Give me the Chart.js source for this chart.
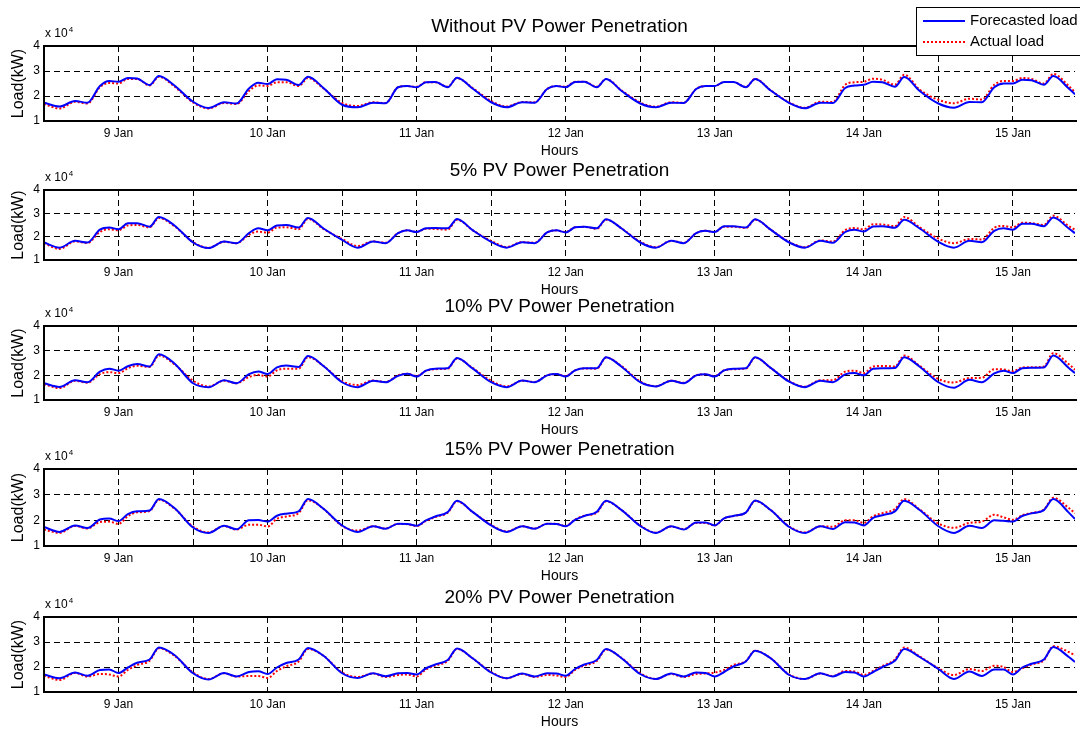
<!DOCTYPE html>
<html>
<head>
<meta charset="utf-8">
<title>PV penetration load forecast</title>
<script src="https://cdn.jsdelivr.net/npm/chart.js@4.4.0/dist/chart.umd.min.js"></script>
<style>
  body { margin: 0; background: #fff; width: 1080px; height: 733px; overflow: hidden; position: relative; }
  canvas { position: absolute; left: 0; }
</style>
</head>
<body>
<canvas id="c0"></canvas>
<canvas id="c1"></canvas>
<canvas id="c2"></canvas>
<canvas id="c3"></canvas>
<canvas id="c4"></canvas>
<script>
// hours counted from 9 Jan 00:00, values in units of 10^4 kW
const hours = [
  -12, -9.5, -7, -5, -3, -1.5,
  0, 1.5, 3, 5, 6.5, 9, 12, 14.5, 17, 19, 21, 22.5,
  24, 25.5, 27, 29, 30.5, 33, 36, 38.5, 41, 43, 45, 46.5,
  48, 49.5, 51, 53, 54.5, 57, 60, 62.5, 65, 67, 69, 70.5,
  72, 73.5, 75, 77, 78.5, 81, 84, 86.5, 89, 91, 93, 94.5,
  96, 97.5, 99, 101, 102.5, 105, 108, 110.5, 113, 115, 117, 118.5,
  120, 121.5, 123, 125, 126.5, 129, 132, 134.5, 137, 139, 141, 142.5,
  144, 145.5, 147, 149, 150.5, 153, 154
];
const dayLabels = ['9 Jan', '10 Jan', '11 Jan', '12 Jan', '13 Jan', '14 Jan', '15 Jan'];
const titles = [
  'Without PV Power Penetration',
  '5% PV Power Penetration',
  '10% PV Power Penetration',
  '15% PV Power Penetration',
  '20% PV Power Penetration'
];

const forecast0 = [
  1.73, 1.58, 1.80, 1.73, 2.40, 2.60,
  2.57, 2.72, 2.70, 2.44, 2.80, 2.42, 1.77, 1.52, 1.75, 1.70, 2.30, 2.53,
  2.48, 2.67, 2.65, 2.44, 2.77, 2.32, 1.65, 1.55, 1.73, 1.71, 2.35, 2.40,
  2.35, 2.55, 2.56, 2.35, 2.73, 2.30, 1.75, 1.55, 1.75, 1.73, 2.28, 2.40,
  2.35, 2.56, 2.57, 2.35, 2.68, 2.20, 1.70, 1.55, 1.73, 1.72, 2.28, 2.40,
  2.40, 2.56, 2.56, 2.35, 2.68, 2.22, 1.72, 1.51, 1.73, 1.72, 2.32, 2.42,
  2.45, 2.57, 2.55, 2.37, 2.76, 2.20, 1.70, 1.53, 1.76, 1.75, 2.35, 2.50,
  2.50, 2.65, 2.63, 2.45, 2.80, 2.30, 2.07
];
const actual0 = [
  1.68, 1.50, 1.77, 1.70, 2.35, 2.52,
  2.50, 2.68, 2.68, 2.42, 2.77, 2.38, 1.74, 1.50, 1.72, 1.68, 2.20, 2.42,
  2.40, 2.55, 2.55, 2.40, 2.72, 2.30, 1.72, 1.60, 1.75, 1.72, 2.35, 2.40,
  2.37, 2.55, 2.55, 2.37, 2.72, 2.32, 1.80, 1.58, 1.76, 1.75, 2.28, 2.40,
  2.37, 2.57, 2.57, 2.37, 2.68, 2.22, 1.74, 1.57, 1.75, 1.73, 2.28, 2.40,
  2.40, 2.56, 2.56, 2.36, 2.68, 2.23, 1.74, 1.53, 1.77, 1.76, 2.45, 2.55,
  2.57, 2.69, 2.65, 2.45, 2.85, 2.25, 1.85, 1.71, 1.89, 1.86, 2.45, 2.60,
  2.60, 2.72, 2.68, 2.50, 2.88, 2.40, 2.15
];

const forecast5 = [
  1.75, 1.53, 1.82, 1.75, 2.30, 2.39,
  2.32, 2.57, 2.58, 2.43, 2.84, 2.48, 1.75, 1.51, 1.79, 1.72, 2.15, 2.36,
  2.27, 2.48, 2.50, 2.39, 2.80, 2.35, 1.86, 1.53, 1.79, 1.72, 2.15, 2.27,
  2.20, 2.36, 2.37, 2.36, 2.76, 2.28, 1.78, 1.53, 1.76, 1.72, 2.18, 2.27,
  2.18, 2.40, 2.43, 2.36, 2.75, 2.35, 1.75, 1.53, 1.82, 1.72, 2.15, 2.25,
  2.20, 2.45, 2.45, 2.39, 2.75, 2.30, 1.75, 1.53, 1.82, 1.74, 2.20, 2.30,
  2.22, 2.44, 2.45, 2.38, 2.72, 2.35, 1.78, 1.53, 1.82, 1.76, 2.25, 2.36,
  2.30, 2.55, 2.55, 2.45, 2.82, 2.35, 2.15
];
const actual5 = [
  1.72, 1.47, 1.80, 1.73, 2.20, 2.32,
  2.27, 2.48, 2.50, 2.40, 2.80, 2.45, 1.77, 1.52, 1.78, 1.72, 2.08, 2.22,
  2.17, 2.39, 2.40, 2.32, 2.76, 2.33, 1.90, 1.60, 1.80, 1.74, 2.15, 2.27,
  2.20, 2.34, 2.33, 2.30, 2.73, 2.28, 1.82, 1.56, 1.77, 1.74, 2.18, 2.27,
  2.20, 2.40, 2.42, 2.34, 2.73, 2.35, 1.78, 1.55, 1.82, 1.74, 2.15, 2.25,
  2.20, 2.43, 2.43, 2.37, 2.73, 2.30, 1.77, 1.55, 1.84, 1.79, 2.28, 2.37,
  2.32, 2.53, 2.52, 2.45, 2.84, 2.40, 1.92, 1.72, 1.90, 1.88, 2.38, 2.46,
  2.40, 2.60, 2.58, 2.50, 2.90, 2.45, 2.30
];

const forecast10 = [
  1.68, 1.53, 1.80, 1.72, 2.15, 2.27,
  2.19, 2.37, 2.46, 2.36, 2.85, 2.48, 1.68, 1.52, 1.80, 1.68, 2.05, 2.16,
  2.05, 2.32, 2.40, 2.34, 2.78, 2.38, 1.72, 1.52, 1.78, 1.72, 1.98, 2.06,
  1.95, 2.19, 2.27, 2.29, 2.70, 2.28, 1.72, 1.52, 1.79, 1.72, 2.00, 2.05,
  1.95, 2.20, 2.29, 2.29, 2.73, 2.35, 1.72, 1.55, 1.78, 1.68, 2.00, 2.04,
  1.95, 2.20, 2.27, 2.29, 2.73, 2.30, 1.74, 1.52, 1.78, 1.72, 2.04, 2.09,
  2.00, 2.27, 2.29, 2.30, 2.73, 2.35, 1.72, 1.50, 1.82, 1.72, 2.08, 2.19,
  2.09, 2.29, 2.31, 2.32, 2.80, 2.30, 2.09
];
const actual10 = [
  1.64, 1.48, 1.78, 1.70, 2.05, 2.13,
  2.09, 2.29, 2.39, 2.34, 2.80, 2.45, 1.78, 1.55, 1.78, 1.68, 1.93, 2.02,
  1.95, 2.20, 2.27, 2.27, 2.74, 2.38, 1.76, 1.61, 1.79, 1.73, 2.00, 2.06,
  1.97, 2.18, 2.25, 2.27, 2.68, 2.30, 1.78, 1.55, 1.78, 1.73, 2.00, 2.05,
  1.97, 2.20, 2.28, 2.27, 2.72, 2.37, 1.75, 1.56, 1.78, 1.70, 2.00, 2.04,
  1.97, 2.20, 2.25, 2.27, 2.72, 2.30, 1.76, 1.54, 1.80, 1.80, 2.15, 2.19,
  2.09, 2.36, 2.38, 2.36, 2.80, 2.38, 1.85, 1.71, 1.89, 1.90, 2.25, 2.24,
  2.16, 2.32, 2.33, 2.36, 2.90, 2.45, 2.23
];

const forecast15 = [
  1.74, 1.55, 1.80, 1.70, 2.03, 2.07,
  1.97, 2.24, 2.35, 2.38, 2.83, 2.48, 1.72, 1.51, 1.79, 1.65, 2.00, 2.01,
  1.95, 2.18, 2.26, 2.35, 2.83, 2.45, 1.80, 1.55, 1.77, 1.67, 1.87, 1.86,
  1.79, 2.00, 2.15, 2.32, 2.76, 2.33, 1.80, 1.55, 1.77, 1.67, 1.87, 1.86,
  1.77, 2.02, 2.17, 2.33, 2.76, 2.40, 1.78, 1.51, 1.77, 1.64, 1.92, 1.92,
  1.80, 2.08, 2.17, 2.30, 2.77, 2.40, 1.74, 1.51, 1.77, 1.66, 1.93, 1.92,
  1.80, 2.10, 2.20, 2.35, 2.76, 2.40, 1.77, 1.51, 1.79, 1.70, 2.00, 1.98,
  1.95, 2.17, 2.27, 2.40, 2.83, 2.30, 2.05
];
const actual15 = [
  1.64, 1.51, 1.78, 1.68, 1.93, 1.95,
  1.86, 2.16, 2.31, 2.36, 2.80, 2.46, 1.76, 1.53, 1.78, 1.64, 1.83, 1.83,
  1.76, 2.06, 2.15, 2.28, 2.78, 2.45, 1.78, 1.60, 1.77, 1.68, 1.86, 1.85,
  1.78, 1.98, 2.13, 2.30, 2.74, 2.33, 1.82, 1.57, 1.77, 1.68, 1.87, 1.86,
  1.78, 2.03, 2.18, 2.30, 2.74, 2.40, 1.80, 1.52, 1.76, 1.66, 1.90, 1.90,
  1.80, 2.07, 2.17, 2.30, 2.75, 2.40, 1.76, 1.53, 1.77, 1.75, 2.00, 2.00,
  1.90, 2.16, 2.28, 2.44, 2.83, 2.42, 1.88, 1.71, 1.90, 1.95, 2.22, 2.12,
  2.02, 2.20, 2.29, 2.42, 2.88, 2.48, 2.28
];

const forecast20 = [
  1.70, 1.55, 1.78, 1.65, 1.88, 1.90,
  1.76, 1.98, 2.17, 2.30, 2.78, 2.48, 1.75, 1.50, 1.76, 1.62, 1.80, 1.83,
  1.72, 1.98, 2.16, 2.30, 2.76, 2.45, 1.75, 1.56, 1.75, 1.63, 1.75, 1.76,
  1.70, 1.95, 2.10, 2.28, 2.74, 2.35, 1.78, 1.55, 1.74, 1.62, 1.75, 1.74,
  1.65, 1.92, 2.10, 2.28, 2.72, 2.35, 1.72, 1.52, 1.74, 1.62, 1.78, 1.76,
  1.62, 1.80, 2.02, 2.22, 2.65, 2.35, 1.68, 1.52, 1.75, 1.62, 1.80, 1.78,
  1.62, 1.80, 2.00, 2.25, 2.72, 2.40, 1.92, 1.52, 1.82, 1.64, 1.90, 1.90,
  1.70, 1.98, 2.13, 2.30, 2.80, 2.40, 2.20
];
const actual20 = [
  1.65, 1.48, 1.76, 1.62, 1.72, 1.70,
  1.62, 1.88, 2.08, 2.25, 2.75, 2.45, 1.78, 1.52, 1.75, 1.62, 1.64, 1.64,
  1.56, 1.84, 2.03, 2.22, 2.72, 2.45, 1.78, 1.60, 1.74, 1.60, 1.68, 1.70,
  1.62, 1.90, 2.06, 2.24, 2.72, 2.35, 1.80, 1.55, 1.72, 1.60, 1.68, 1.66,
  1.60, 1.88, 2.06, 2.24, 2.70, 2.36, 1.75, 1.52, 1.72, 1.60, 1.72, 1.74,
  1.78, 1.88, 2.08, 2.24, 2.65, 2.35, 1.70, 1.52, 1.74, 1.64, 1.84, 1.82,
  1.68, 1.84, 2.04, 2.30, 2.78, 2.42, 1.95, 1.68, 1.92, 1.84, 2.05, 2.00,
  1.80, 1.95, 2.10, 2.27, 2.83, 2.60, 2.47
];

const FONT = "'Liberation Sans', Arial, Helvetica, sans-serif";
Chart.defaults.font.family = FONT;
Chart.defaults.color = '#000';

const panels = [
  { id: 'c0', title: titles[0], fc: forecast0, ac: actual0, top: 46, bottom: 121, legend: true },
  { id: 'c1', title: titles[1], fc: forecast5, ac: actual5, top: 190, bottom: 260 },
  { id: 'c2', title: titles[2], fc: forecast10, ac: actual10, top: 326, bottom: 400 },
  { id: 'c3', title: titles[3], fc: forecast15, ac: actual15, top: 469, bottom: 546 },
  { id: 'c4', title: titles[4], fc: forecast20, ac: actual20, top: 617, bottom: 692 }
];

// axes box, "x 10^4" multiplier
const framePlugin = {
  id: 'frame',
  afterDraw(chart) {
    const { ctx, chartArea: a } = chart;
    ctx.save();
    ctx.strokeStyle = '#000';
    ctx.lineWidth = 2;
    ctx.beginPath();
    ctx.moveTo(a.right + 2, a.top);
    ctx.lineTo(a.left, a.top);
    ctx.lineTo(a.left, a.bottom);
    ctx.lineTo(a.right + 2, a.bottom);
    ctx.stroke();
    ctx.fillStyle = '#000';
    ctx.font = '12px ' + FONT;
    ctx.textBaseline = 'alphabetic';
    ctx.fillText('x 10', a.left + 1, a.top - 9);
    const w = ctx.measureText('x 10').width;
    ctx.font = '8px ' + FONT;
    ctx.fillText('4', a.left + 1 + w + 1, a.top - 14);
    ctx.restore();
  }
};

const legendPlugin = {
  id: 'boxLegend',
  afterDraw(chart) {
    const ctx = chart.ctx;
    const sets = chart.data.datasets;
    ctx.save();
    ctx.fillStyle = '#fff';
    ctx.fillRect(916, 7, 170, 48);
    ctx.strokeStyle = '#000';
    ctx.lineWidth = 1;
    ctx.strokeRect(916.5, 7.5, 170, 48);
    sets.forEach((ds, i) => {
      const y = 21 + i * 21;
      ctx.strokeStyle = ds.borderColor;
      ctx.lineWidth = 2;
      ctx.setLineDash(ds.borderDash || []);
      ctx.beginPath();
      ctx.moveTo(923, y);
      ctx.lineTo(965, y);
      ctx.stroke();
      ctx.setLineDash([]);
      ctx.fillStyle = '#000';
      ctx.font = '15px ' + FONT;
      ctx.textBaseline = 'middle';
      ctx.fillText(ds.label, 970, y);
    });
    ctx.restore();
  }
};

function makeChart(p) {
  const canvas = document.getElementById(p.id);
  canvas.width = 1080;
  canvas.height = p.bottom - p.top + 86;
  canvas.style.top = (p.top - 46) + 'px';

  const plugins = [framePlugin];
  if (p.legend) plugins.push(legendPlugin);

  new Chart(canvas, {
    type: 'line',
    data: {
      datasets: [
        {
          label: 'Forecasted load',
          data: hours.map((h, i) => ({ x: h, y: p.fc[i] })),
          borderColor: '#0000ff',
          borderWidth: 2,
          pointRadius: 0,
          cubicInterpolationMode: 'monotone'
        },
        {
          label: 'Actual load',
          data: hours.map((h, i) => ({ x: h, y: p.ac[i] })),
          borderColor: '#ff0000',
          borderWidth: 2,
          borderDash: [2, 2],
          pointRadius: 0,
          cubicInterpolationMode: 'monotone'
        }
      ]
    },
    options: {
      responsive: false,
      animation: false,
      devicePixelRatio: 1,
      layout: { padding: 0 },
      plugins: {
        legend: { display: false },
        tooltip: { enabled: false },
        title: {
          display: true,
          text: p.title,
          fullSize: false,
          color: '#000',
          font: { size: 19, weight: 'normal', lineHeight: 1 },
          padding: { top: 17.5, bottom: 9.5 }
        }
      },
      scales: {
        x: {
          type: 'linear',
          min: -12,
          max: 154,
          afterFit: s => { s.height = 40; },
          ticks: {
            stepSize: 12,
            autoSkip: false,
            maxRotation: 0,
            padding: 5,
            color: '#000',
            font: { size: 12 },
            callback: v => (v % 24 === 0 ? dayLabels[v / 24] : '')
          },
          grid: {
            drawTicks: false,
            lineWidth: 1,
            color: c => (c.tick && c.tick.value % 12 === 0 ? '#000' : 'rgba(0,0,0,0)')
          },
          border: { display: false, dash: [6, 4] },
          title: {
            display: true,
            text: 'Hours',
            color: '#000',
            font: { size: 14 },
            padding: { top: 0, bottom: 1 }
          }
        },
        y: {
          min: 1,
          max: 4,
          afterFit: s => { s.width = 44; },
          ticks: { stepSize: 1, padding: 4, color: '#000', font: { size: 12 } },
          grid: { drawTicks: false, lineWidth: 1, color: '#000' },
          border: { display: false, dash: [6, 4] },
          title: {
            display: true,
            text: 'Load(kW)',
            color: '#000',
            font: { size: 16 },
            padding: { top: 9, bottom: 0 }
          }
        }
      }
    },
    plugins: plugins
  });
}

panels.forEach(makeChart);
</script>
</body>
</html>
